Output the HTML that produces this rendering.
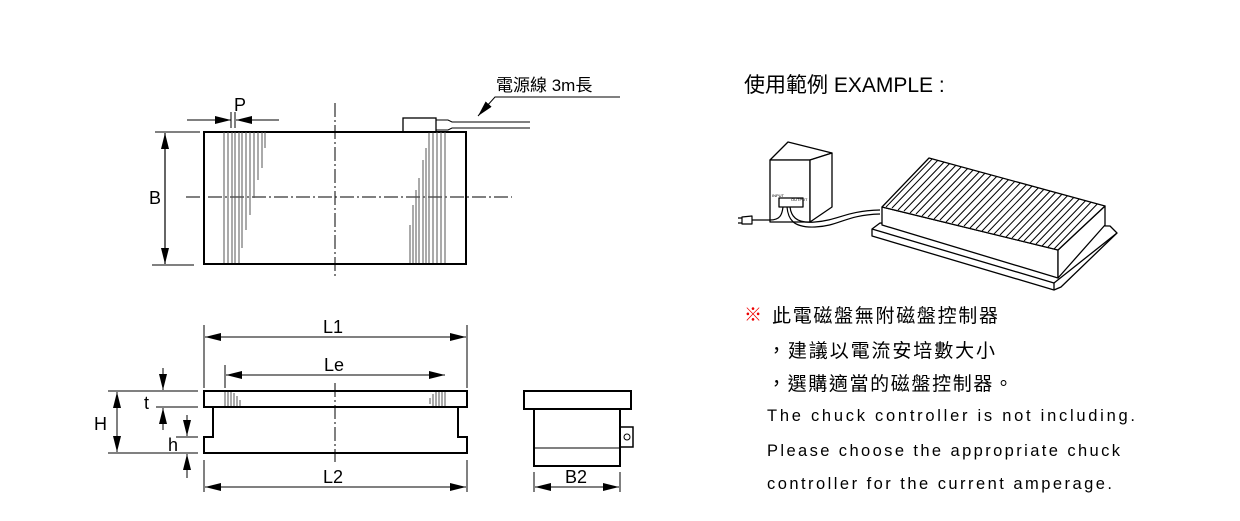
<!DOCTYPE html>
<html><head><meta charset="utf-8"><style>
html,body{margin:0;padding:0;background:#fff;}
svg{display:block;}
text{font-family:"Liberation Sans","Noto Sans CJK TC",sans-serif;fill:#000;}
</style></head><body>
<svg width="1240" height="521" viewBox="0 0 1240 521" xmlns="http://www.w3.org/2000/svg">
<defs>
<marker id="a" markerWidth="16" markerHeight="8" refX="16" refY="4" orient="auto" markerUnits="userSpaceOnUse"><path d="M0,0 L16,4 L0,8 z" fill="#000"/></marker>
<clipPath id="topc"><polygon points="882,207 929,158 1105,206 1058,250"/></clipPath>
</defs>
<g stroke="#000" fill="none">
<rect x="204" y="132" width="262" height="132" stroke-width="2"/>
<line x1="335" y1="103" x2="335" y2="278" stroke-width="1" stroke-dasharray="14,3,2,3"/>
<line x1="186" y1="197" x2="512" y2="197" stroke-width="1" stroke-dasharray="14,3,2,3"/>
<g stroke="#555" stroke-width="1">
<line x1="224" y1="132" x2="224" y2="263"/><line x1="228" y1="132" x2="228" y2="263"/><line x1="232" y1="132" x2="232" y2="263"/><line x1="235" y1="132" x2="235" y2="263"/><line x1="239" y1="132" x2="239" y2="263"/>
<line x1="242" y1="132" x2="242" y2="248"/><line x1="246" y1="132" x2="246" y2="230"/><line x1="250" y1="132" x2="250" y2="215"/><line x1="254" y1="132" x2="254" y2="198"/><line x1="258" y1="132" x2="258" y2="180"/><line x1="262" y1="132" x2="262" y2="168"/><line x1="265" y1="132" x2="265" y2="148"/>
<line x1="445" y1="132" x2="445" y2="263"/><line x1="441" y1="132" x2="441" y2="263"/><line x1="437" y1="132" x2="437" y2="263"/><line x1="433" y1="132" x2="433" y2="263"/><line x1="429" y1="132" x2="429" y2="263"/>
<line x1="426" y1="148" x2="426" y2="263"/><line x1="423" y1="160" x2="423" y2="263"/><line x1="419" y1="178" x2="419" y2="263"/><line x1="416" y1="190" x2="416" y2="263"/><line x1="413" y1="205" x2="413" y2="263"/><line x1="410" y1="225" x2="410" y2="263"/>
</g>
<rect x="403" y="118" width="33" height="14" stroke-width="1.3"/>
<path d="M436,120 L448,120 L452,122 L530,122 M436,130 L448,130 L452,128 L530,128" stroke-width="1"/>
<path d="M620,97 L495,97 L478,116" stroke-width="1" marker-end="url(#a)"/>
<line x1="187" y1="120" x2="231" y2="120" marker-end="url(#a)"/>
<line x1="279" y1="120" x2="236" y2="120" marker-end="url(#a)"/>
<line x1="231" y1="112" x2="231" y2="128"/><line x1="235" y1="112" x2="235" y2="128"/>
<line x1="155" y1="132" x2="200" y2="132"/><line x1="152" y1="265" x2="194" y2="265"/>
<line x1="165" y1="198" x2="165" y2="133" marker-end="url(#a)" stroke-width="1.2"/>
<line x1="165" y1="198" x2="165" y2="264" marker-end="url(#a)" stroke-width="1.2"/>
<rect x="204" y="391" width="263" height="16" stroke-width="2"/>
<path d="M213,407 L213,437 L204,437 L204,453 L467,453 L467,437 L458,437 L458,407" stroke-width="2"/>
<line x1="335" y1="383" x2="335" y2="462" stroke-dasharray="14,3,2,3"/>
<g stroke="#555"><line x1="225" y1="392" x2="225" y2="406"/><line x1="228" y1="392" x2="228" y2="406"/><line x1="231" y1="392" x2="231" y2="406"/><line x1="234" y1="393" x2="234" y2="406"/><line x1="237" y1="396" x2="237" y2="406"/><line x1="240" y1="400" x2="240" y2="406"/>
<line x1="445" y1="392" x2="445" y2="406"/><line x1="442" y1="392" x2="442" y2="406"/><line x1="439" y1="392" x2="439" y2="406"/><line x1="436" y1="392" x2="436" y2="406"/><line x1="433" y1="394" x2="433" y2="406"/><line x1="430" y1="398" x2="430" y2="404"/></g>
<line x1="204" y1="325" x2="204" y2="388"/><line x1="467" y1="325" x2="467" y2="388"/>
<line x1="335" y1="337" x2="205" y2="337" marker-end="url(#a)"/><line x1="335" y1="337" x2="466" y2="337" marker-end="url(#a)"/>
<line x1="225" y1="365" x2="225" y2="388"/>
<line x1="335" y1="375" x2="226" y2="375" marker-end="url(#a)"/><line x1="335" y1="375" x2="445" y2="375" marker-end="url(#a)"/>
<line x1="204" y1="460" x2="204" y2="492"/><line x1="467" y1="460" x2="467" y2="492"/>
<line x1="335" y1="487" x2="205" y2="487" marker-end="url(#a)"/><line x1="335" y1="487" x2="466" y2="487" marker-end="url(#a)"/>
<line x1="108" y1="391" x2="198" y2="391"/><line x1="108" y1="453" x2="198" y2="453"/>
<line x1="156" y1="407" x2="198" y2="407"/><line x1="176" y1="437" x2="198" y2="437"/>
<line x1="117" y1="422" x2="117" y2="392" marker-end="url(#a)"/><line x1="117" y1="422" x2="117" y2="452" marker-end="url(#a)"/>
<line x1="163" y1="368" x2="163" y2="390" marker-end="url(#a)"/><line x1="163" y1="430" x2="163" y2="408" marker-end="url(#a)"/>
<line x1="187" y1="415" x2="187" y2="436" marker-end="url(#a)"/><line x1="187" y1="478" x2="187" y2="454" marker-end="url(#a)"/>
<rect x="524" y="391" width="107" height="18" stroke-width="2"/>
<rect x="534" y="409" width="86" height="57" stroke-width="2"/>
<line x1="534" y1="448" x2="620" y2="448"/>
<rect x="620" y="427" width="13" height="20" stroke-width="1.5"/>
<circle cx="627" cy="437" r="3"/>
<line x1="534" y1="472" x2="534" y2="492"/><line x1="620" y1="472" x2="620" y2="492"/>
<line x1="577" y1="487" x2="535" y2="487" marker-end="url(#a)"/><line x1="577" y1="487" x2="619" y2="487" marker-end="url(#a)"/>
<g stroke-width="1.3" stroke-linejoin="round">
<polygon points="872,229 880,223 1110,226 1117,233 1061,287 1054,290 872,236" fill="#fff"/>
<line x1="872" y1="229" x2="1054" y2="283"/><line x1="1054" y1="283" x2="1054" y2="290"/><line x1="1054" y1="283" x2="1117" y2="233"/>
<polygon points="882,207 1058,250 1058,278 882,225" fill="#fff"/>
<polygon points="1058,250 1105,206 1105,225 1058,278" fill="#fff"/>
<polygon points="882,207 929,158 1105,206 1058,250" fill="#fff"/>
<g clip-path="url(#topc)" stroke-width="1">
<path d="M880,205 l49,-51 M886,207 l49,-51 M892,208 l49,-51 M898,210 l49,-51 M904,211 l49,-51 M910,213 l49,-51 M916,214 l49,-51 M922,216 l49,-51 M928,217 l49,-51 M934,219 l49,-51 M940,220 l49,-51 M946,222 l49,-51 M952,223 l49,-51 M958,225 l49,-51 M964,226 l49,-51 M970,228 l49,-51 M976,229 l49,-51 M982,231 l49,-51 M988,232 l49,-51 M994,234 l49,-51 M1000,235 l49,-51 M1006,237 l49,-51 M1012,238 l49,-51 M1018,240 l49,-51 M1024,241 l49,-51 M1030,243 l49,-51 M1036,244 l49,-51 M1042,246 l49,-51 M1048,247 l49,-51 M1054,249 l49,-51"/>
</g>
<polygon points="770,160 788,142 832,153 810,160" fill="#fff"/>
<rect x="770" y="160" width="40" height="62" fill="#fff"/>
<polygon points="810,160 832,153 832,207 810,222" fill="#fff"/>
<rect x="779" y="198" width="24" height="9" fill="#fff"/>
<path d="M783,207 C782,215 780,220 770,220 L752,220 M787,207 C788,218 792,228 815,227 C840,226 845,215 880,214 M790,207 C791,215 795,224 815,222 C840,220 845,211 880,210" stroke-width="1.2"/>
<path d="M742,217 L752,216 L752,224 L742,224 z M738,218 L742,218 M738,223 L742,223" stroke-width="1.2"/>
</g>
</g>
<text x="772" y="197" font-size="4">INPUT</text><text x="791" y="201" font-size="4">OUTPUT</text>
<g font-size="18">
<text x="496" y="91" font-size="17">電源線 3m長</text>
<text x="234" y="111">P</text>
<text x="149" y="204">B</text>
<text x="323" y="333">L1</text>
<text x="324" y="371">Le</text>
<text x="323" y="483">L2</text>
<text x="565" y="483">B2</text>
<text x="94" y="430">H</text>
<text x="144" y="409">t</text>
<text x="168" y="451">h</text>
</g>
<text x="744" y="92" font-size="21">使用範例 EXAMPLE :</text>
<text x="744" y="321" font-size="18" style="fill:#e00">※</text>
<g font-size="19">
<text x="772" y="322" textLength="226">此電磁盤無附磁盤控制器</text>
<text x="767" y="357" textLength="228">，建議以電流安培數大小</text>
<text x="767" y="390" textLength="246">，選購適當的磁盤控制器。</text>
</g>
<g font-size="16.5">
<text x="767" y="421" textLength="368">The chuck controller is not including.</text>
<text x="767" y="456" textLength="353">Please choose the appropriate chuck</text>
<text x="767" y="489" textLength="345">controller for the current amperage.</text>
</g>
</svg>
</body></html>
